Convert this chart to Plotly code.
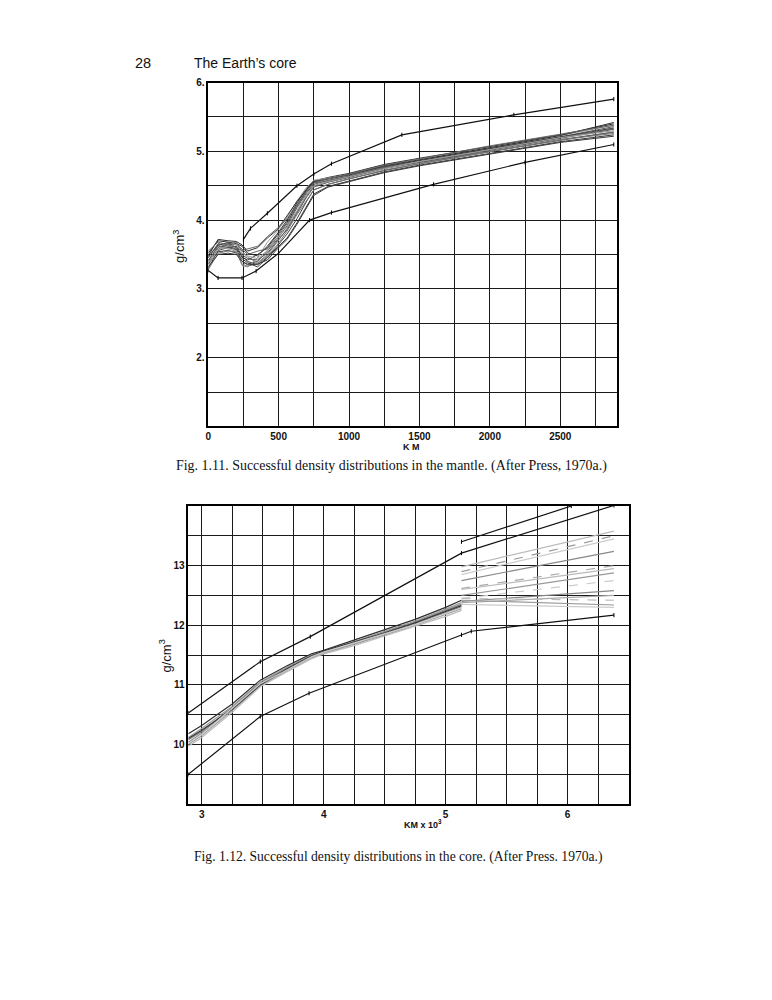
import plotly.graph_objects as go

# ---- Fig 1.11: mantle (depth in km, density g/cm3) ----
mantle_depth = [0, 70, 140, 200, 240, 280, 350, 420, 490, 560, 630, 700, 750, 850, 1000, 1250, 1500, 2000, 2500, 2880]
mantle_runs = [
    [3.52, 3.70, 3.68, 3.66, 3.62, 3.52, 3.48, 3.62, 3.80, 4.00, 4.25, 4.46, 4.57, 4.62, 4.68, 4.81, 4.90, 5.07, 5.24, 5.40],
    [3.45, 3.66, 3.62, 3.58, 3.40, 3.36, 3.40, 3.55, 3.72, 3.92, 4.18, 4.40, 4.52, 4.58, 4.64, 4.77, 4.87, 5.04, 5.21, 5.36],
    [3.38, 3.58, 3.64, 3.68, 3.55, 3.46, 3.38, 3.50, 3.68, 3.88, 4.12, 4.36, 4.50, 4.56, 4.63, 4.76, 4.85, 5.03, 5.20, 5.33],
    [3.30, 3.56, 3.60, 3.62, 3.48, 3.40, 3.35, 3.46, 3.62, 3.80, 4.02, 4.28, 4.44, 4.52, 4.60, 4.72, 4.82, 5.00, 5.17, 5.28],
    [3.50, 3.62, 3.58, 3.55, 3.34, 3.32, 3.45, 3.68, 3.84, 4.04, 4.28, 4.48, 4.58, 4.61, 4.66, 4.79, 4.88, 5.06, 5.23, 5.38],
    [3.42, 3.60, 3.66, 3.64, 3.58, 3.50, 3.55, 3.58, 3.75, 3.95, 4.20, 4.42, 4.54, 4.57, 4.64, 4.76, 4.84, 5.00, 5.16, 5.28],
    [3.36, 3.54, 3.56, 3.52, 3.44, 3.38, 3.32, 3.45, 3.60, 3.74, 3.96, 4.20, 4.38, 4.49, 4.57, 4.70, 4.80, 4.97, 5.14, 5.24],
    [3.48, 3.72, 3.70, 3.69, 3.64, 3.55, 3.60, 3.74, 3.86, 4.06, 4.27, 4.45, 4.55, 4.60, 4.66, 4.79, 4.88, 5.06, 5.23, 5.42],
    [3.40, 3.63, 3.60, 3.57, 3.50, 3.44, 3.42, 3.52, 3.70, 3.86, 4.10, 4.34, 4.48, 4.55, 4.62, 4.75, 4.84, 5.02, 5.19, 5.32],
    [3.28, 3.52, 3.55, 3.54, 3.36, 3.33, 3.37, 3.48, 3.64, 3.84, 4.08, 4.30, 4.44, 4.52, 4.60, 4.73, 4.82, 4.99, 5.17, 5.26],
    [3.46, 3.64, 3.67, 3.60, 3.46, 3.42, 3.50, 3.60, 3.78, 3.97, 4.22, 4.44, 4.56, 4.60, 4.66, 4.78, 4.87, 5.04, 5.21, 5.34],
    [3.34, 3.57, 3.62, 3.65, 3.52, 3.48, 3.44, 3.56, 3.74, 3.90, 4.14, 4.38, 4.50, 4.56, 4.63, 4.75, 4.85, 5.03, 5.20, 5.30],
    [3.55, 3.68, 3.64, 3.60, 3.56, 3.58, 3.62, 3.76, 3.88, 4.02, 4.22, 4.42, 4.54, 4.60, 4.67, 4.80, 4.89, 5.08, 5.25, 5.38],
    [3.32, 3.50, 3.52, 3.50, 3.40, 3.35, 3.36, 3.42, 3.58, 3.72, 3.94, 4.18, 4.36, 4.48, 4.56, 4.69, 4.79, 4.96, 5.13, 5.22],
]
mantle_upper_x = [250, 300, 420, 630, 750, 875, 1375, 2170, 2880]
mantle_upper_y = [3.72, 3.88, 4.10, 4.50, 4.67, 4.82, 5.24, 5.53, 5.76]
mantle_lower_x = [0, 70, 240, 340, 500, 720, 875, 1600, 2250, 2880]
mantle_lower_y = [3.27, 3.16, 3.16, 3.26, 3.52, 4.00, 4.11, 4.52, 4.84, 5.10]

mantle_xticks = [0, 250, 500, 750, 1000, 1250, 1500, 1750, 2000, 2250, 2500, 2750]
mantle_xlabels = ["0", "", "500", "", "1000", "", "1500", "", "2000", "", "2500", ""]
mantle_yticks = [1.5, 2, 2.5, 3, 3.5, 4, 4.5, 5, 5.5, 6]
mantle_ylabels = ["", "2.", "", "3.", "", "4.", "", "5.", "", "6."]

# ---- Fig 1.12: core (depth in 1000 km, density g/cm3) ----
outer_depth = [2.89, 3.0, 3.25, 3.48, 3.7, 3.9, 4.0, 4.25, 4.5, 4.75, 5.0, 5.13]
outer_runs = [
    [10.18, 10.32, 10.68, 11.08, 11.32, 11.52, 11.58, 11.75, 11.92, 12.10, 12.30, 12.42],
    [10.12, 10.27, 10.64, 11.05, 11.30, 11.50, 11.56, 11.73, 11.90, 12.07, 12.27, 12.38],
    [10.08, 10.22, 10.62, 11.03, 11.28, 11.48, 11.55, 11.71, 11.88, 12.05, 12.24, 12.35],
    [10.04, 10.19, 10.60, 11.01, 11.26, 11.46, 11.54, 11.69, 11.86, 12.02, 12.21, 12.31],
    [10.00, 10.15, 10.57, 10.99, 11.24, 11.45, 11.53, 11.68, 11.84, 12.00, 12.18, 12.28],
    [9.97, 10.12, 10.54, 10.97, 11.22, 11.44, 11.52, 11.66, 11.82, 11.98, 12.15, 12.25],
    [10.10, 10.24, 10.59, 11.00, 11.27, 11.49, 11.57, 11.72, 11.87, 12.04, 12.23, 12.33],
    [10.02, 10.17, 10.61, 11.02, 11.25, 11.47, 11.55, 11.70, 11.85, 12.01, 12.20, 12.29],
]
inner_depth = [5.13, 6.38]
inner_runs = [
    [12.98, 13.58], [12.90, 13.50], [12.85, 13.45], [12.75, 13.24],
    [12.62, 13.00], [12.60, 12.95], [12.50, 12.88], [12.45, 12.75],
    [12.40, 12.58], [12.38, 12.50], [12.45, 12.42], [12.42, 12.34],
    [12.35, 12.30],
]
core_upper_x = [2.89, 3.48, 3.89, 5.13, 6.38]
core_upper_y = [10.53, 11.39, 11.81, 13.21, 14.01]
core_top_x = [5.13, 6.03]
core_top_y = [13.40, 14.0]
core_lower_x = [2.89, 3.48, 3.88, 5.13, 5.21, 6.38]
core_lower_y = [9.50, 10.47, 10.86, 11.84, 11.90, 12.17]

core_xticks = [3, 3.25, 3.5, 3.75, 4, 4.25, 4.5, 4.75, 5, 5.25, 5.5, 5.75, 6, 6.25]
core_xlabels = ["3", "", "", "", "4", "", "", "", "5", "", "", "", "6", ""]
core_yticks = [9.5, 10, 10.5, 11, 11.5, 12, 12.5, 13, 13.5]
core_ylabels = ["", "10", "", "11", "", "12", "", "13", ""]

greys = ["#2e2e2e", "#555555", "#777777", "#404040", "#999999", "#666666", "#3a3a3a"]
light_greys = ["#bbbbbb", "#999999", "#cccccc", "#888888", "#aaaaaa"]

fig = go.Figure()

for i, run in enumerate(mantle_runs):
    fig.add_trace(go.Scatter(x=mantle_depth, y=run, mode="lines",
                             line=dict(color=greys[i % len(greys)], width=1),
                             xaxis="x", yaxis="y"))

tick_marker = dict(symbol="line-ns", size=3, line=dict(color="black", width=1), color="black")
for bx, by in [(mantle_upper_x, mantle_upper_y), (mantle_lower_x, mantle_lower_y)]:
    fig.add_trace(go.Scatter(x=bx, y=by, mode="lines+markers", marker=tick_marker,
                             line=dict(color="#111111", width=1.2), xaxis="x", yaxis="y"))

for i, run in enumerate(outer_runs):
    fig.add_trace(go.Scatter(x=outer_depth, y=run, mode="lines",
                             line=dict(color=light_greys[i % len(light_greys)] if i % 2 else greys[i % len(greys)], width=1.2),
                             xaxis="x2", yaxis="y2"))

for i, run in enumerate(inner_runs):
    fig.add_trace(go.Scatter(x=inner_depth, y=run, mode="lines",
                             line=dict(color=light_greys[i % len(light_greys)], width=1.2,
                                       dash="dash" if i % 3 == 1 else "solid"),
                             xaxis="x2", yaxis="y2"))

for bx, by in [(core_upper_x, core_upper_y), (core_top_x, core_top_y), (core_lower_x, core_lower_y)]:
    fig.add_trace(go.Scatter(x=bx, y=by, mode="lines+markers", marker=tick_marker,
                             line=dict(color="#111111", width=1.2), xaxis="x2", yaxis="y2"))

# page is drawn with the browser's 8px body margin, so place things in page px minus 8
OFF = 8
W, H = 772 - OFF, 1000 - OFF


def fx(px):
    return (px - OFF) / W


def fy(py):
    return 1 - (py - OFF) / H


axis_style = dict(showline=True, mirror=True, linecolor="black", linewidth=1.5,
                  showgrid=True, gridcolor="#1a1a1a", gridwidth=1.3, zeroline=False,
                  ticks="", tickmode="array", fixedrange=True)
tick_font = dict(family="Liberation Sans", size=10, color="#111111", weight="bold")

fig.update_layout(
    width=W, height=H, margin=dict(l=0, r=0, t=0, b=0),
    paper_bgcolor="white", plot_bgcolor="white", showlegend=False,
    xaxis=dict(axis_style, domain=[fx(206), fx(616)], range=[0, 2900], anchor="y",
               tickvals=mantle_xticks, ticktext=mantle_xlabels, tickfont=tick_font),
    yaxis=dict(axis_style, domain=[fy(423), fy(77)], range=[1, 6], anchor="x",
               tickvals=mantle_yticks, ticktext=mantle_ylabels, tickfont=tick_font),
    xaxis2=dict(axis_style, domain=[fx(186), fx(628)], range=[2.89, 6.5], anchor="y2",
                tickvals=core_xticks, ticktext=core_xlabels, tickfont=tick_font),
    yaxis2=dict(axis_style, domain=[fy(803), fy(503)], range=[9, 14], anchor="x2",
                tickvals=core_yticks, ticktext=core_ylabels, tickfont=tick_font),
)

sans = "Liberation Sans"
serif = "Liberation Serif"


def note(text, x, y, size, family, angle=0, anchor="center", weight="normal"):
    fig.add_annotation(text=text, x=fx(x), y=fy(y), xref="paper", yref="paper",
                       showarrow=False, textangle=angle, xanchor=anchor, yanchor="middle",
                       font=dict(family=family, size=size, color="#111111", weight=weight))


note("28", 130, 57, 14.5, sans, anchor="left")
note("The Earth\u2019s core", 190, 57, 14, sans, anchor="left")
note("K M", 410, 444, 9, sans, weight="bold")
note("g/cm<sup>3</sup>", 176, 242, 13, sans, angle=-90)
note("Fig. 1.11. Successful density distributions in the mantle. (After Press, 1970a.)",
     390, 463, 13.9, serif)
note("KM x 10<sup>3</sup>", 422, 823, 9, sans, weight="bold")
note("g/cm<sup>3</sup>", 163, 654, 13, sans, angle=-90)
note("Fig. 1.12. Successful density distributions in the core. (After Press. 1970a.)",
     397, 856, 13.6, serif)

fig.write_html("out.html")
